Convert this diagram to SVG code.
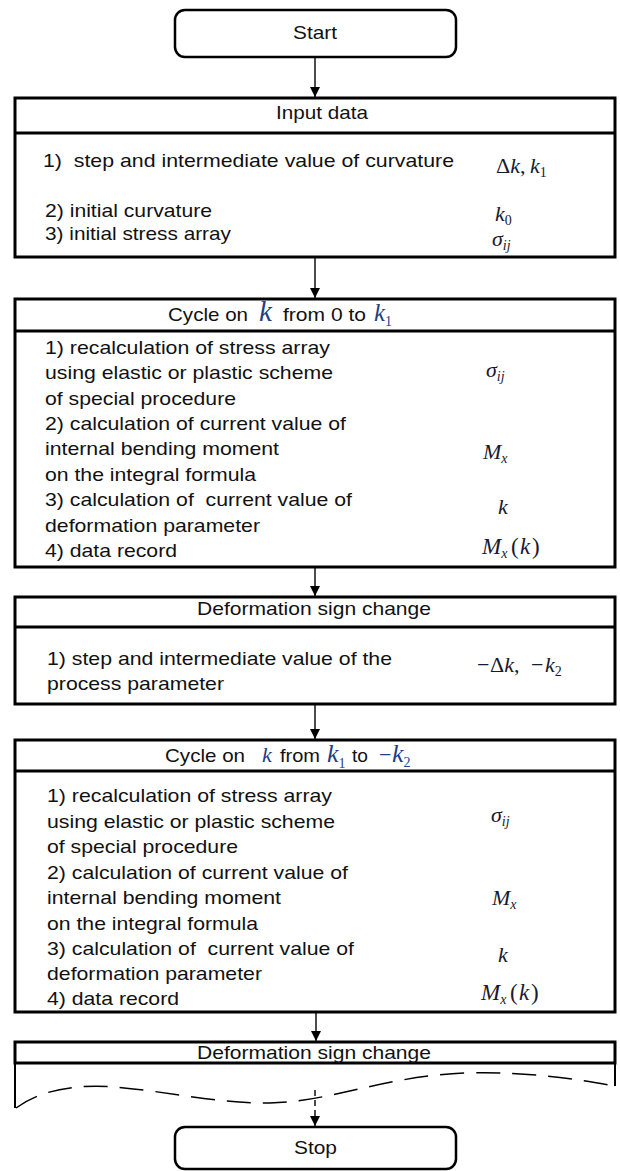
<svg xmlns="http://www.w3.org/2000/svg" width="620" height="1171" viewBox="0 0 620 1171">
<style>
.box{fill:#fff;stroke:#000;stroke-width:3}
.term{fill:#fff;stroke:#000;stroke-width:2.5}
.dv{stroke:#000;stroke-width:3;fill:none}
.side{stroke:#000;stroke-width:2;fill:none}
.t{font-family:"Liberation Sans",Arial,sans-serif;font-size:19px;fill:#111}
.m{font-family:"Liberation Serif","Times New Roman",serif;font-size:22px;fill:#1a1a2e}
.i{font-style:italic}
.sub{font-size:14px}
.hk{fill:#1d3f87}
.conn{stroke:#000;stroke-width:1.4;fill:none}
.dash{stroke:#000;stroke-width:1.4;fill:none;stroke-dasharray:6 4}
.wave{stroke:#000;stroke-width:1.5;fill:none;stroke-dasharray:24 12}
</style>
<defs>
<marker id="ah" markerUnits="userSpaceOnUse" markerWidth="11" markerHeight="11" refX="10" refY="5" orient="auto">
<path d="M0,0 L10,5 L0,10 z" fill="#000"/>
</marker>
</defs>
<rect width="620" height="1171" fill="#fff"/>

<g id="connectors">
<path class="conn" d="M315,57 V97" marker-end="url(#ah)"/>
<path class="conn" d="M315,257 V298" marker-end="url(#ah)"/>
<path class="conn" d="M315,567 V596" marker-end="url(#ah)"/>
<path class="conn" d="M315,704 V739" marker-end="url(#ah)"/>
<path class="conn" d="M316,1012 V1041" marker-end="url(#ah)"/>
<path class="dash" d="M315,1090 V1126" marker-end="url(#ah)"/>
</g>

<g id="start">
<rect class="term" x="175" y="10" width="281" height="47" rx="10"/>
<text class="t" x="293" y="39" textLength="44" lengthAdjust="spacingAndGlyphs">Start</text>
</g>

<g id="input">
<rect class="box" x="15" y="98" width="600" height="159"/>
<path class="dv" d="M15,133 H615"/>
<text class="t" x="276" y="119" textLength="92" lengthAdjust="spacingAndGlyphs">Input data</text>
<text class="t" x="43" y="167" xml:space="preserve" textLength="411" lengthAdjust="spacingAndGlyphs">1)  step and intermediate value of curvature</text>
<text class="t" x="45" y="217" textLength="167" lengthAdjust="spacingAndGlyphs">2) initial curvature</text>
<text class="t" x="45" y="240" textLength="186" lengthAdjust="spacingAndGlyphs">3) initial stress array</text>
<text class="m" y="173"><tspan x="496">Δ</tspan><tspan class="i">k</tspan><tspan>,</tspan><tspan class="i" x="530">k</tspan><tspan class="sub" dy="4">1</tspan></text>
<text class="m" y="221"><tspan class="i" x="495">k</tspan><tspan class="sub" dy="4">0</tspan></text>
<text class="m" y="246"><tspan class="i" x="492">σ</tspan><tspan class="sub i" dy="4">ij</tspan></text>
</g>

<g id="cycle1">
<rect class="box" x="15" y="299" width="600" height="268"/>
<path class="dv" d="M15,331 H615"/>
<text class="t" x="168" y="321" textLength="80" lengthAdjust="spacingAndGlyphs">Cycle on</text>
<text class="m i hk" x="259" y="321" style="font-size:29px">k</text>
<text class="t" x="283" y="321" textLength="83" lengthAdjust="spacingAndGlyphs">from 0 to</text>
<text class="m hk" y="321"><tspan class="i" x="374" style="font-size:25px">k</tspan><tspan class="sub" dy="5">1</tspan></text>
<text class="t" x="45" y="354" textLength="285" lengthAdjust="spacingAndGlyphs">1) recalculation of stress array</text>
<text class="t" x="45" y="379" textLength="288" lengthAdjust="spacingAndGlyphs">using elastic or plastic scheme</text>
<text class="t" x="45" y="405" textLength="191" lengthAdjust="spacingAndGlyphs">of special procedure</text>
<text class="t" x="45" y="430" textLength="301" lengthAdjust="spacingAndGlyphs">2) calculation of current value of</text>
<text class="t" x="45" y="455" textLength="234" lengthAdjust="spacingAndGlyphs">internal bending moment</text>
<text class="t" x="45" y="481" textLength="211" lengthAdjust="spacingAndGlyphs">on the integral formula</text>
<text class="t" x="45" y="506" xml:space="preserve" textLength="307" lengthAdjust="spacingAndGlyphs">3) calculation of  current value of</text>
<text class="t" x="45" y="532" textLength="215" lengthAdjust="spacingAndGlyphs">deformation parameter</text>
<text class="t" x="45" y="557" textLength="132" lengthAdjust="spacingAndGlyphs">4) data record</text>
<text class="m" y="377"><tspan class="i" x="486">σ</tspan><tspan class="sub i" dy="4">ij</tspan></text>
<text class="m" y="459"><tspan class="i" x="483">M</tspan><tspan class="sub i" dy="4">x</tspan></text>
<text class="m i" x="498" y="514">k</text>
<text class="m" y="554" style="font-size:23px"><tspan class="i" x="482">M</tspan><tspan class="sub i" dy="4">x</tspan><tspan x="511" dy="-4">(</tspan><tspan class="i" x="520">k</tspan><tspan x="532">)</tspan></text>
</g>

<g id="signchange1">
<rect class="box" x="15" y="597" width="600" height="107"/>
<path class="dv" d="M15,627 H615"/>
<text class="t" x="197" y="615" textLength="234" lengthAdjust="spacingAndGlyphs">Deformation sign change</text>
<text class="t" x="47" y="665" textLength="345" lengthAdjust="spacingAndGlyphs">1) step and intermediate value of the</text>
<text class="t" x="47" y="690" textLength="177" lengthAdjust="spacingAndGlyphs">process parameter</text>
<text class="m" y="672"><tspan x="477">−</tspan><tspan x="490">Δ</tspan><tspan class="i">k</tspan><tspan>,</tspan><tspan x="531">−</tspan><tspan class="i" x="545">k</tspan><tspan class="sub" dy="4">2</tspan></text>
</g>

<g id="cycle2">
<rect class="box" x="15" y="740" width="600" height="272"/>
<path class="dv" d="M15,771 H615"/>
<text class="t" x="165" y="762" textLength="80" lengthAdjust="spacingAndGlyphs">Cycle on</text>
<text class="m i hk" x="262" y="762">k</text>
<text class="t" x="280" y="762" textLength="40" lengthAdjust="spacingAndGlyphs">from</text>
<text class="m hk" y="762"><tspan class="i" x="327" style="font-size:26px">k</tspan><tspan class="sub" dy="6">1</tspan></text>
<text class="t" x="352" y="762" textLength="16" lengthAdjust="spacingAndGlyphs">to</text>
<text class="m hk" y="762"><tspan x="379">−</tspan><tspan class="i" x="392" style="font-size:26px">k</tspan><tspan class="sub" dy="5">2</tspan></text>
<text class="t" x="47" y="802" textLength="285" lengthAdjust="spacingAndGlyphs">1) recalculation of stress array</text>
<text class="t" x="47" y="828" textLength="288" lengthAdjust="spacingAndGlyphs">using elastic or plastic scheme</text>
<text class="t" x="47" y="853" textLength="191" lengthAdjust="spacingAndGlyphs">of special procedure</text>
<text class="t" x="47" y="879" textLength="301" lengthAdjust="spacingAndGlyphs">2) calculation of current value of</text>
<text class="t" x="47" y="904" textLength="234" lengthAdjust="spacingAndGlyphs">internal bending moment</text>
<text class="t" x="47" y="930" textLength="211" lengthAdjust="spacingAndGlyphs">on the integral formula</text>
<text class="t" x="47" y="955" xml:space="preserve" textLength="307" lengthAdjust="spacingAndGlyphs">3) calculation of  current value of</text>
<text class="t" x="47" y="980" textLength="215" lengthAdjust="spacingAndGlyphs">deformation parameter</text>
<text class="t" x="47" y="1005" textLength="132" lengthAdjust="spacingAndGlyphs">4) data record</text>
<text class="m" y="822"><tspan class="i" x="491">σ</tspan><tspan class="sub i" dy="4">ij</tspan></text>
<text class="m" y="905"><tspan class="i" x="492">M</tspan><tspan class="sub i" dy="4">x</tspan></text>
<text class="m i" x="498" y="962">k</text>
<text class="m" y="1000" style="font-size:23px"><tspan class="i" x="481">M</tspan><tspan class="sub i" dy="4">x</tspan><tspan x="510" dy="-4">(</tspan><tspan class="i" x="519">k</tspan><tspan x="531">)</tspan></text>
</g>

<g id="signchange2">
<path class="side" d="M15,1063 V1108"/>
<path class="side" d="M615,1063 V1086"/>
<rect class="box" x="15" y="1042" width="600" height="21"/>
<text class="t" x="197" y="1059" textLength="234" lengthAdjust="spacingAndGlyphs">Deformation sign change</text>
<path class="wave" d="M16,1108 C40,1090 75,1084 115,1087 C165,1091 220,1104 270,1103 C330,1102 385,1076 465,1073 C530,1071 580,1080 615,1086"/>
</g>

<g id="stop">
<rect class="term" x="175" y="1127" width="281" height="42" rx="10"/>
<text class="t" x="294" y="1154" textLength="43" lengthAdjust="spacingAndGlyphs">Stop</text>
</g>
</svg>
